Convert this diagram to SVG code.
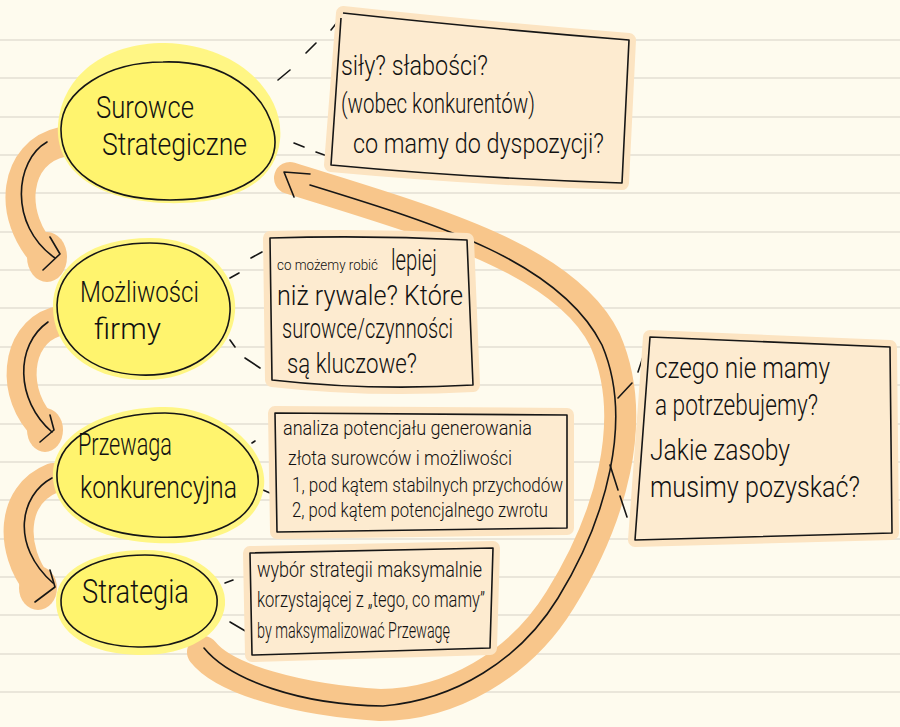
<svg xmlns="http://www.w3.org/2000/svg" width="900" height="727" viewBox="0 0 900 727">
<defs>
<style>
.hw { font-family: Roboto, Lato, "Liberation Sans", sans-serif; font-weight: 300; fill: #111111; }
.ink { fill: none; stroke: #161616; stroke-width: 1.6; stroke-linecap: round; stroke-linejoin: round; }
.band { fill: none; stroke: #f8c68b; stroke-linecap: round; stroke-linejoin: round; }
.blob { fill: #f8c68b; }
.glow { fill: #fce4c2; stroke: #fce4c2; stroke-width: 14; stroke-linejoin: round; }
.box { fill: #fdebd0; stroke: #161616; stroke-width: 1.6; stroke-linejoin: round; }
.yhalo { fill: #fff684; }
.yfill { fill: #fff46e; stroke: #161616; stroke-width: 1.6; }
.rule { stroke: #e3dfd3; stroke-width: 1.5; fill: none; }
</style>
</defs>
<rect x="0" y="0" width="900" height="727" fill="#fefbee"/>
<path class="rule" d="M0 40H900M0 78H900M0 117H900M0 155H900M0 193H900M0 232H900M0 270H900M0 308H900M0 347H900M0 385H900M0 424H900M0 462H900M0 500H900M0 539H900M0 577H900M0 615H900M0 654H900M0 692H900"/>

<g id="connectors">
  <!-- big return arc -->
  <path class="band" stroke-width="32" d="M 290 178 C 430 222, 565 258, 605 340 C 640 420, 610 520, 560 600 C 520 665, 450 705, 380 705 C 300 700, 225 680, 203 652"/>
  <path class="ink" d="M 310 185 C 440 225, 560 262, 602 345 C 634 420, 606 520, 558 598 C 520 660, 455 700, 383 706 C 300 705, 230 680, 204 648"/>
  <path class="ink" d="M 310 174 L 284 172 L 294 197"/>
  <!-- left arrows -->
  <path class="band" stroke-width="30" d="M 62 142 C 15 152, 5 215, 47 258"/>
  <ellipse class="blob" cx="47" cy="257" rx="20" ry="25"/>
  <path class="ink" d="M 47 142 C 15 160, 8 225, 55 258"/>
  <path class="ink" d="M 50 237 L 60 254 L 43 270"/>

  <path class="band" stroke-width="30" d="M 55 322 C 15 335, 10 395, 45 428"/>
  <ellipse class="blob" cx="45" cy="430" rx="18" ry="22"/>
  <path class="ink" d="M 48 322 C 15 345, 15 400, 52 432"/>
  <path class="ink" d="M 50 415 L 54 430 L 40 442"/>

  <path class="band" stroke-width="30" d="M 53 478 C 10 495, 10 550, 38 585"/>
  <ellipse class="blob" cx="38" cy="588" rx="19" ry="22"/>
  <path class="ink" d="M 52 478 C 20 495, 10 545, 53 583"/>
  <path class="ink" d="M 50 570 L 55 587 L 35 602"/>

  <!-- dashed links -->
  <path class="ink" d="M249 107L261 97M278 80L290 70M306 53L316 43M331 30L343 15M257 127L271 132M294 143L304 147M316 152L330 157"/>
  <path class="ink" d="M209 290L220 285M230 278L239 273M251 258L262 252M209 320L222 328M230 340L235 347M245 358L260 368"/>
  <path class="ink" d="M230 457L240 453M252 443L255 441M243 480L250 485M263 490L270 493M280 502L283 505"/>
  <path class="ink" d="M202 600L212 595M225 583L233 580M200 608L210 611M230 622L247 632"/>
  <path class="ink" d="M618 398L632 383M638 372L643 357M610 465L618 490M620 496L627 517"/>
</g>

<g id="node-surowce">
  <path class="yhalo" d="M 165 43 C 240 45, 285 95, 280 140 C 275 185, 230 205, 165 203 C 95 200, 55 170, 58 125 C 62 75, 105 43, 165 43 Z"/>
  <path class="yfill" d="M 163 62 C 225 60, 265 92, 274 132 C 282 172, 240 200, 170 200 C 100 200, 60 170, 61 128 C 62 90, 108 62, 163 62 Z"/>
  <text class="hw" x="96" y="118" font-size="31" textLength="98" lengthAdjust="spacingAndGlyphs">Surowce</text>
  <text class="hw" x="102" y="155" font-size="31" textLength="145" lengthAdjust="spacingAndGlyphs">Strategiczne</text>
</g>

<g id="node-mozliwosci">
  <path class="yhalo" d="M 150 238 C 210 238, 238 278, 235 312 C 232 352, 192 382, 140 380 C 88 378, 52 348, 53 305 C 54 265, 92 238, 150 238 Z"/>
  <path class="yfill" d="M 150 243 C 205 243, 232 280, 230 312 C 228 350, 190 377, 140 375 C 90 373, 57 345, 57 305 C 58 268, 95 243, 150 243 Z"/>
  <text class="hw" x="80" y="302" font-size="30" textLength="119" lengthAdjust="spacingAndGlyphs">Możliwości</text>
  <text class="hw" x="94" y="339" font-size="30" textLength="67" lengthAdjust="spacingAndGlyphs">firmy</text>
</g>

<g id="node-przewaga">
  <path class="yhalo" d="M 165 407 C 220 407, 268 448, 264 486 C 260 524, 218 546, 155 543 C 92 540, 51 512, 53 472 C 55 432, 108 407, 165 407 Z"/>
  <path class="yfill" d="M 165 413 C 215 413, 262 450, 258 485 C 254 520, 215 540, 155 537 C 95 534, 55 510, 57 473 C 59 435, 110 413, 165 413 Z"/>
  <text class="hw" x="78" y="455" font-size="31" textLength="94" lengthAdjust="spacingAndGlyphs">Przewaga</text>
  <text class="hw" x="80" y="498" font-size="31" textLength="157" lengthAdjust="spacingAndGlyphs">konkurencyjna</text>
</g>

<g id="node-strategia">
  <path class="yhalo" d="M 145 550 C 195 550, 228 577, 225 605 C 222 636, 185 656, 138 655 C 92 654, 55 635, 56 600 C 57 568, 98 550, 145 550 Z"/>
  <path class="yfill" d="M 145 555 C 190 555, 220 580, 217 605 C 214 632, 180 648, 138 647 C 95 646, 60 630, 61 600 C 62 572, 100 555, 145 555 Z"/>
  <text class="hw" x="82" y="603" font-size="33" textLength="107" lengthAdjust="spacingAndGlyphs">Strategia</text>
</g>

<g id="box-zasoby">
  <path class="glow" d="M 343 13 Q 480 28 629 40 L 622 183 Q 470 178 331 165 Z"/>
  <path class="box" d="M 343 13 Q 480 28 629 40 L 622 183 Q 470 178 331 165 L 341 18"/>
  <text class="hw" x="341" y="75" font-size="28" textLength="147" lengthAdjust="spacingAndGlyphs">siły? słabości?</text>
  <text class="hw" x="341" y="113" font-size="28" textLength="194" lengthAdjust="spacingAndGlyphs">(wobec konkurentów)</text>
  <text class="hw" x="353" y="153" font-size="28" textLength="251" lengthAdjust="spacingAndGlyphs">co mamy do dyspozycji?</text>
</g>

<g id="box-mozliwosci">
  <path class="glow" d="M 270 238 Q 370 235 467 240 L 473 385 Q 370 391 272 380 Z"/>
  <path class="box" d="M 270 238 Q 370 235 467 240 L 473 385 Q 370 391 272 380 Z"/>
  <text class="hw" x="277" y="270" font-size="14" textLength="101" lengthAdjust="spacingAndGlyphs">co możemy robić</text>
  <text class="hw" x="391" y="270" font-size="29" textLength="46" lengthAdjust="spacingAndGlyphs">lepiej</text>
  <text class="hw" x="277" y="305" font-size="27" textLength="186" lengthAdjust="spacingAndGlyphs">niż rywale? Które</text>
  <text class="hw" x="282" y="338" font-size="27" textLength="171" lengthAdjust="spacingAndGlyphs">surowce/czynności</text>
  <text class="hw" x="287" y="373" font-size="27" textLength="130" lengthAdjust="spacingAndGlyphs">są kluczowe?</text>
</g>

<g id="box-przewaga">
  <path class="glow" d="M 275 413 L 567 415 L 567 528 L 277 532 Z"/>
  <path class="box" d="M 275 413 L 567 415 L 567 528 L 277 532 Z"/>
  <text class="hw" x="283" y="435" font-size="21" textLength="249" lengthAdjust="spacingAndGlyphs">analiza potencjału generowania</text>
  <text class="hw" x="288" y="465" font-size="21" textLength="224" lengthAdjust="spacingAndGlyphs">złota surowców i możliwości</text>
  <text class="hw" x="292" y="492" font-size="21" textLength="271" lengthAdjust="spacingAndGlyphs">1, pod kątem stabilnych przychodów</text>
  <text class="hw" x="292" y="517" font-size="21" textLength="256" lengthAdjust="spacingAndGlyphs">2, pod kątem potencjalnego zwrotu</text>
</g>

<g id="box-strategia">
  <path class="glow" d="M 250 553 L 493 548 L 490 648 L 252 655 Z"/>
  <path class="box" d="M 250 553 L 493 548 L 490 648 L 252 655 Z"/>
  <text class="hw" x="257" y="577" font-size="22" textLength="225" lengthAdjust="spacingAndGlyphs">wybór strategii maksymalnie</text>
  <text class="hw" x="257" y="607" font-size="22" textLength="228" lengthAdjust="spacingAndGlyphs">korzystającej z „tego, co mamy”</text>
  <text class="hw" x="257" y="638" font-size="22" textLength="193" lengthAdjust="spacingAndGlyphs">by maksymalizować Przewagę</text>
</g>

<g id="box-braki">
  <path class="glow" d="M 650 337 L 890 347 L 892 533 L 635 540 Z"/>
  <path class="box" d="M 650 337 L 890 347 L 892 533 L 635 540 Z"/>
  <text class="hw" x="655" y="378" font-size="29" textLength="175" lengthAdjust="spacingAndGlyphs">czego nie mamy</text>
  <text class="hw" x="655" y="415" font-size="29" textLength="163" lengthAdjust="spacingAndGlyphs">a potrzebujemy?</text>
  <text class="hw" x="650" y="460" font-size="29" textLength="140" lengthAdjust="spacingAndGlyphs">Jakie zasoby</text>
  <text class="hw" x="650" y="497" font-size="29" textLength="210" lengthAdjust="spacingAndGlyphs">musimy pozyskać?</text>
</g>
</svg>
